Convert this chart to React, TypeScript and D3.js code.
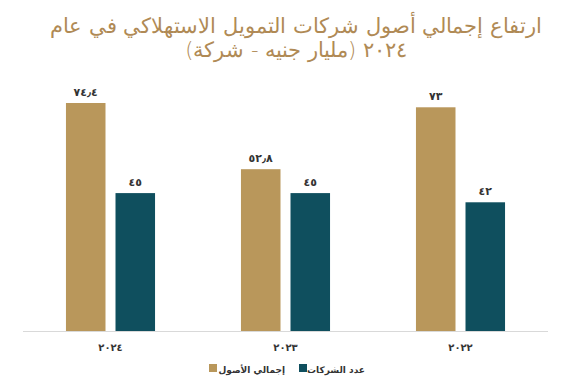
import React, { useEffect, useRef } from 'react';
import * as d3 from 'd3';

const years = ['2024', '2023', '2022'];
const yearLabels = ['٢٠٢٤', '٢٠٢٣', '٢٠٢٢'];
const assets = [74.4, 52.8, 73];
const assetLabels = ['٧٤٫٤', '٥٢٫٨', '٧٣'];
const companies = [45, 45, 42];
const companyLabels = ['٤٥', '٤٥', '٤٢'];
const seriesKeys = ['assets', 'companies'];
const seriesNames = ['إجمالي الأصول', 'عدد الشركات'];
const titleLines = [
  'ارتفاع إجمالي أصول شركات التمويل الاستهلاكي في عام',
  '٢٠٢٤ (مليار جنيه - شركة)',
];

const GOLD = '#b9975b';
const TEAL = '#0f4f5e';
const colors = [GOLD, TEAL];

const App = () => {
  const svgRef = useRef<SVGSVGElement>(null);

  useEffect(() => {
    const w = 561;
    const h = 385;
    const baseY = 331;
    const svg = d3.select(svgRef.current).attr('width', w).attr('height', h);
    svg.selectAll('*').remove();

    const font = "'DejaVu Sans', sans-serif";

    // title
    svg
      .append('g')
      .selectAll('text')
      .data(titleLines)
      .join('text')
      .attr('x', 296)
      .attr('y', (d, i) => 33 + i * 24)
      .attr('text-anchor', 'middle')
      .attr('direction', 'rtl')
      .attr('font-family', font)
      .attr('font-size', 21)
      .attr('font-weight', 300)
      .attr('fill', '#b08a55')
      .text((d) => d);

    // scales
    const x0 = d3.scaleBand().domain(years).range([23, 548]).paddingInner(0.491).paddingOuter(0.2455);
    const x1 = d3.scaleBand().domain(seriesKeys).range([0, x0.bandwidth()]).paddingInner(0.202);
    const y = d3.scaleLinear().domain([0, 74.4]).range([baseY, 103]);

    // baseline
    svg
      .append('line')
      .attr('x1', 23)
      .attr('x2', 548)
      .attr('y1', baseY + 0.5)
      .attr('y2', baseY + 0.5)
      .attr('stroke', '#d9d9d9')
      .attr('stroke-width', 1);

    const rows = years.map((yr, i) => ({
      yr,
      vals: [
        { key: 'assets', v: assets[i], label: assetLabels[i] },
        { key: 'companies', v: companies[i], label: companyLabels[i] },
      ],
    }));

    const groups = svg
      .append('g')
      .selectAll('g')
      .data(rows)
      .join('g')
      .attr('transform', (d) => `translate(${x0(d.yr)},0)`);

    groups
      .selectAll('rect')
      .data((d) => d.vals)
      .join('rect')
      .attr('x', (d) => x1(d.key)!)
      .attr('y', (d) => y(d.v))
      .attr('width', x1.bandwidth())
      .attr('height', (d) => baseY - y(d.v))
      .attr('fill', (d, i) => colors[i]);

    groups
      .selectAll('text')
      .data((d) => d.vals)
      .join('text')
      .attr('x', (d) => x1(d.key)! + x1.bandwidth() / 2)
      .attr('y', (d) => y(d.v) - 7)
      .attr('text-anchor', 'middle')
      .attr('font-family', font)
      .attr('font-size', 11)
      .attr('font-weight', 'bold')
      .attr('fill', '#333')
      .text((d) => d.label);

    // category labels
    svg
      .append('g')
      .selectAll('text')
      .data(years)
      .join('text')
      .attr('x', (d) => x0(d)! + x0.bandwidth() / 2)
      .attr('y', 351)
      .attr('text-anchor', 'middle')
      .attr('font-family', font)
      .attr('font-size', 10)
      .attr('font-weight', 'bold')
      .attr('letter-spacing', 2)
      .attr('fill', '#333')
      .text((d, i) => yearLabels[i]);

    // legend: square on the left, text ending at textEnd
    const legendX = [209, 299];
    const textEnd = [285, 365];
    const legend = svg
      .append('g')
      .selectAll('g')
      .data(seriesNames)
      .join('g')
      .attr('transform', (d, i) => `translate(${legendX[i]},364)`);
    legend
      .append('rect')
      .attr('width', 8)
      .attr('height', 8)
      .attr('fill', (d, i) => colors[i]);
    legend
      .append('text')
      .attr('x', (d, i) => textEnd[i] - legendX[i])
      .attr('y', 8.5)
      .attr('text-anchor', 'end')
      .attr('font-family', font)
      .attr('font-size', 9)
      .attr('font-weight', 'bold')
      .attr('fill', '#333')
      .text((d) => d);
  }, []);

  return (
    <div>
      <svg ref={svgRef} style={{ position: 'absolute', left: 0, top: 0 }}></svg>
    </div>
  );
};

export default App;
